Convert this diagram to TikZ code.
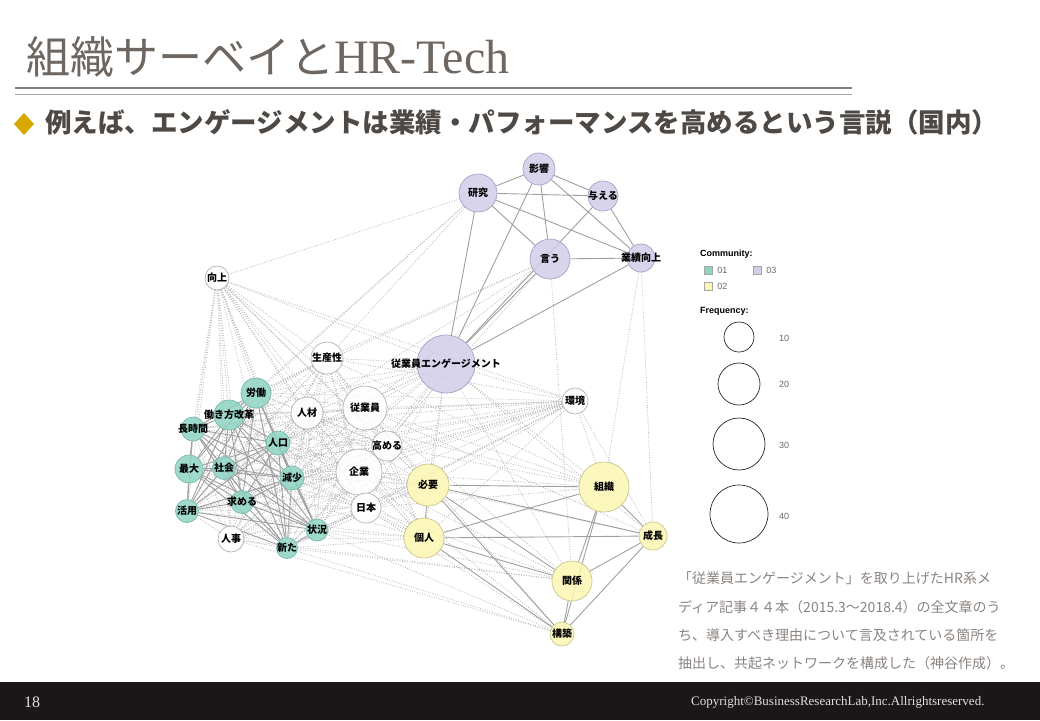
\documentclass[tikz,border=0pt]{standalone}
\usepackage{fontspec}
\usepackage{tikz}
\usetikzlibrary{backgrounds,positioning}
\setmainfont{Liberation Serif}
\newfontfamily\jp{Noto Sans CJK JP}
\newfontfamily\lsans{Liberation Sans}

\definecolor{titlegray}{HTML}{6E6761}
\definecolor{subgray}{HTML}{4E4944}
\definecolor{diamondgold}{HTML}{D9A800}
\definecolor{capgray}{HTML}{8A8480}
\definecolor{footbg}{HTML}{1B1719}
\definecolor{tealfill}{HTML}{8ED4C3}
\definecolor{tealedge}{HTML}{78B9A9}
\definecolor{yelfill}{HTML}{FBF7B2}
\definecolor{yeledge}{HTML}{CBC58E}
\definecolor{purfill}{HTML}{D1CCE7}
\definecolor{puredge}{HTML}{A7A1C7}

\newcommand\tealwords{roudou,hatarakikata,choujikan,jinkou,saidai,shakai,genshou,motomeru,katsuyou,joukyou,arata}
\newcommand\whitewords{koujou,seisansei,jinzai,juugyouin,takameru,kigyou,nihon,kankyou,jinji}

\tikzset{
  word/.style={circle, draw=gray!60, line width=0.7pt, inner sep=0pt, fill=white, fill opacity=0.85},
  wordA/.style={word, fill=tealfill, draw=tealedge},
  wordB/.style={word, fill=yelfill, draw=yeledge},
  wordC/.style={word, fill=purfill, draw=puredge},
  every label/.style={font=\fontsize{10}{12}\selectfont\jp\bfseries, text=black, inner sep=0pt, fill opacity=1, text opacity=1},
  strong/.style={draw=gray!75, line width=0.9pt},
  weak/.style={draw=gray!55, line width=0.8pt, dash pattern=on 0.9pt off 1.6pt},
  legtext/.style={font=\fontsize{9}{11}\selectfont\lsans, text=gray!80!black, anchor=west, inner sep=0pt},
  leghead/.style={font=\fontsize{9}{11}\selectfont\lsans\bfseries, anchor=west, inner sep=0pt},
  legbox/.style={draw=gray!70, minimum size=8, inner sep=0pt},
  freqring/.style={circle, draw=gray!30!black, line width=0.7pt, inner sep=0pt},
  capline/.style={font=\fontsize{14}{16}\selectfont\jp, text=capgray, anchor=west, inner sep=0pt}
}

\begin{document}
\begin{tikzpicture}[x=1pt, y=-1pt]
	\useasboundingbox (0,0) rectangle (1040,720);
	% title
	\node[anchor=base west, inner sep=0pt, text=titlegray, font=\fontsize{44}{48}\selectfont] (title) at (26,73) {{\jp 組織サーベイと}{\fontsize{48}{50}\selectfont HR-Tech}};
	\draw[line width=1.2pt, titlegray!85] (15,88) -- (852,88);
	\draw[line width=1.2pt, titlegray!60] (15,94.5) -- (852,94.5);
	\fill[diamondgold] (24,113) -- (34,124) -- (24,135) -- (14,124) -- cycle;
	\node[anchor=base west, inner sep=0pt, text=subgray, font=\fontsize{26.5}{30}\selectfont\jp\bfseries] (subtitle) at (45,132) {例えば、エンゲージメントは業績・パフォーマンスを高めるという言説（国内）};

	% community 03
	\node[wordC, minimum size=32, label=center:影響] (eikyou) at (539,169) {};
	\node[wordC, minimum size=38, label=center:研究] (kenkyuu) at (478,193) {};
	\node[wordC, minimum size=30, label=center:与える] (ataeru) at (603,196) {};
	\node[wordC, minimum size=40, label=center:言う] (iu) at (550,259) {};
	\node[wordC, minimum size=28, label=center:業績向上] (gyouseki) at (641,258) {};
	\node[wordC, minimum size=58, label=center:従業員エンゲージメント] (engage) at (446,364) {};
	% community 02
	\node[wordB, minimum size=42, label=center:必要] (hitsuyou) at (428,485) {};
	\node[wordB, minimum size=50, label=center:組織] (soshiki) at (604,487) {};
	\node[wordB, minimum size=40, label=center:個人] (kojin) at (424,538) {};
	\node[wordB, minimum size=28, label=center:成長] (seichou) at (653,536) {};
	\node[wordB, minimum size=40, label=center:関係] (kankei) at (572,581) {};
	\node[wordB, minimum size=24, label=center:構築] (kouchiku) at (562,634) {};
	% community 01
	\node[wordA, minimum size=30, label=center:労働] (roudou) at (256,393) {};
	\node[wordA, minimum size=30, label=center:働き方改革] (hatarakikata) at (229,415) {};
	\node[wordA, minimum size=24, label=center:長時間] (choujikan) at (193,429) {};
	\node[wordA, minimum size=24, label=center:人口] (jinkou) at (278,443) {};
	\node[wordA, minimum size=28, label=center:最大] (saidai) at (189,469) {};
	\node[wordA, minimum size=23, label=center:社会] (shakai) at (224,468) {};
	\node[wordA, minimum size=24, label=center:減少] (genshou) at (292,478) {};
	\node[wordA, minimum size=23, label=center:求める] (motomeru) at (242,502) {};
	\node[wordA, minimum size=23, label=center:活用] (katsuyou) at (187,511) {};
	\node[wordA, minimum size=22, label=center:状況] (joukyou) at (317,530) {};
	\node[wordA, minimum size=21, label=center:新た] (arata) at (287,548) {};
	% no community
	\node[word, minimum size=24, label=center:向上] (koujou) at (217,278) {};
	\node[word, minimum size=32, label=center:生産性] (seisansei) at (327,358) {};
	\node[word, minimum size=32, label=center:人材] (jinzai) at (307,413) {};
	\node[word, minimum size=44, label=center:従業員] (juugyouin) at (365,408) {};
	\node[word, minimum size=30, label=center:高める] (takameru) at (387,446) {};
	\node[word, minimum size=46, label=center:企業] (kigyou) at (359,472) {};
	\node[word, minimum size=30, label=center:日本] (nihon) at (366,508) {};
	\node[word, minimum size=26, label=center:環境] (kankyou) at (575,401) {};
	\node[word, minimum size=26, label=center:人事] (jinji) at (231,539) {};

	\begin{pgfonlayer}{background}
		% weak co-occurrences
		\foreach \a in \whitewords
			\foreach \b in \tealwords
				\draw[weak] (\a) -- (\b);
		\foreach \a [count=\i] in \whitewords
			\foreach \b [count=\j] in \whitewords
				{\ifnum\j>\i \draw[weak] (\a) -- (\b); \fi}
		\foreach \b in {koujou,seisansei,jinzai,juugyouin,takameru,kigyou,nihon,kankyou,jinji,hitsuyou,kojin,soshiki,seichou,kankei,roudou,hatarakikata,jinkou,genshou,shakai}
			\draw[weak] (engage) -- (\b);
		\foreach \a in {hitsuyou,kojin}
			\foreach \b in {koujou,seisansei,jinzai,juugyouin,takameru,kigyou,nihon,kankyou,jinji,jinkou,genshou,joukyou,arata,katsuyou,saidai}
				\draw[weak] (\a) -- (\b);
		\foreach \b in {juugyouin,kigyou,takameru,kankyou,jinzai,seisansei,nihon}
			\draw[weak] (soshiki) -- (\b);
		\foreach \a in {kankei,kouchiku}
			\foreach \b in {kigyou,nihon,jinji,joukyou,arata,juugyouin}
				\draw[weak] (\a) -- (\b);
		\foreach \b in {kankyou,kigyou,juugyouin}
			\draw[weak] (seichou) -- (\b);
		\foreach \b in {soshiki,seichou}
			\draw[weak] (gyouseki) -- (\b);
		\foreach \b in {seisansei,jinzai,roudou,juugyouin,kigyou,kankei}
			\draw[weak] (iu) -- (\b);
		\foreach \b in {koujou,seisansei,roudou,hatarakikata}
			\draw[weak] (kenkyuu) -- (\b);
		% strong co-occurrences
		\foreach \a [count=\i] in \tealwords
			\foreach \b [count=\j] in \tealwords
				{\ifnum\j>\i \draw[strong] (\a) -- (\b); \fi}
		\foreach \a/\b in {kenkyuu/eikyou, kenkyuu/ataeru, kenkyuu/iu, kenkyuu/gyouseki, kenkyuu/engage, eikyou/ataeru, eikyou/iu, eikyou/gyouseki, eikyou/engage, ataeru/gyouseki, ataeru/engage, iu/gyouseki, iu/engage, gyouseki/engage}
			\draw[strong] (\a) -- (\b);
		\foreach \a/\b in {hitsuyou/soshiki, hitsuyou/seichou, hitsuyou/kojin, hitsuyou/kankei, hitsuyou/kouchiku, kojin/soshiki, kojin/seichou, kojin/kankei, kojin/kouchiku, soshiki/seichou, soshiki/kankei, soshiki/kouchiku, kankei/seichou, kankei/kouchiku, seichou/kouchiku}
			\draw[strong] (\a) -- (\b);
	\end{pgfonlayer}

	% legend
	\node[leghead] (commhead) at (700,254) {Community:};
	\node[legbox, fill=tealfill] (box01) at (708,270) {};
	\node[legtext, right=5pt of box01] (lab01) {01};
	\node[legbox, fill=purfill] (box03) at (757,270) {};
	\node[legtext, right=5pt of box03] (lab03) {03};
	\node[legbox, fill=yelfill] (box02) at (708,286) {};
	\node[legtext, right=5pt of box02] (lab02) {02};
	\node[leghead] (freqhead) at (700,311) {Frequency:};
	\node[freqring, minimum size=30] (f10) at (739,337) {};
	\node[freqring, minimum size=42] (f20) at (739,384) {};
	\node[freqring, minimum size=52] (f30) at (739,444) {};
	\node[freqring, minimum size=58] (f40) at (739,514) {};
	\node[legtext] (lab10) at (779,338) {10};
	\node[legtext] (lab20) at (779,384) {20};
	\node[legtext] (lab30) at (779,445) {30};
	\node[legtext] (lab40) at (779,516) {40};

	% caption
	\node[capline] (cap1) at (678,578) {「従業員エンゲージメント」を取り上げたHR系メ};
	\node[capline] (cap2) at (678,607) {ディア記事４４本（2015.3～2018.4）の全文章のう};
	\node[capline] (cap3) at (678,635) {ち、導入すべき理由について言及されている箇所を};
	\node[capline] (cap4) at (678,663) {抽出し、共起ネットワークを構成した（神谷作成）。};

	% footer
	\fill[footbg] (0,682) rectangle (1040,720);
	\node[text=white!88!black, font=\fontsize{16}{18}\selectfont] (pagenum) at (32,702) {18};
	\node[anchor=east, text=white!88!black, font=\fontsize{13}{15}\selectfont] (copyright) at (988,702) {Copyright©BusinessResearchLab,Inc.Allrightsreserved.};
\end{tikzpicture}
\end{document}
